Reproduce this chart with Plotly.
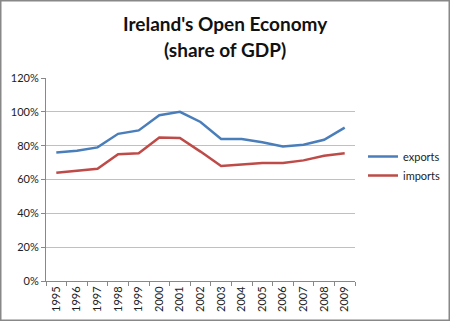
import plotly.graph_objects as go

years = [str(y) for y in range(1995, 2010)]
exports = [0.76, 0.77, 0.79, 0.87, 0.89, 0.98, 1.00, 0.94, 0.84, 0.84, 0.82, 0.795, 0.805, 0.835, 0.907]
imports = [0.64, 0.653, 0.663, 0.75, 0.755, 0.848, 0.845, 0.765, 0.68, 0.688, 0.697, 0.697, 0.713, 0.74, 0.755]

W, H = 450, 321
L, R, T, B = 46, 95, 78, 40
pw, ph = W - L - R, H - T - B

FONT = "Lato"
fig = go.Figure()
fig.add_trace(go.Scatter(x=years, y=exports, name="exports", mode="lines",
                         line=dict(color="#4a7ebb", width=2.5)))
fig.add_trace(go.Scatter(x=years, y=imports, name="imports", mode="lines",
                         line=dict(color="#be4b48", width=2.5)))

def px_x(p):
    return (p - L) / pw

def px_y(p):
    return (H - B - p) / ph

fig.update_layout(
    width=W, height=H,
    margin=dict(l=L, r=R, t=T, b=B, autoexpand=False),
    paper_bgcolor="white", plot_bgcolor="white",
    font=dict(family=FONT, size=11, color="#222"),
    showlegend=True,
    legend=dict(x=px_x(363), xanchor="left", y=px_y(166), yanchor="middle",
                font=dict(family=FONT, size=11, color="#222"),
                tracegroupgap=4, itemwidth=30, bgcolor="rgba(0,0,0,0)"),
    xaxis=dict(type="category", tickson="boundaries", ticks="outside", ticklen=4,
               tickcolor="#888", showline=True, linecolor="#888", showgrid=False,
               tickangle=-90, tickfont=dict(size=11), range=[-0.5, 14.5],
               automargin=False),
    yaxis=dict(range=[0, 1.2], dtick=0.2, tickformat=".0%", ticks="outside", ticklen=4,
               tickcolor="#888", showline=True, linecolor="#888", showgrid=True,
               gridcolor="#c0c0c0", gridwidth=1, zeroline=False,
               tickfont=dict(size=11), automargin=False),
    shapes=[dict(type="rect", xref="paper", yref="paper",
                 x0=px_x(0.75), x1=px_x(W - 0.75), y0=px_y(H - 0.75), y1=px_y(0.75),
                 line=dict(color="#888", width=1.5), layer="above")],
)
fig.add_annotation(text="<b>Ireland's Open Economy</b>", xref="paper", yref="paper",
                   x=px_x(225), y=px_y(23), xanchor="center", yanchor="middle",
                   showarrow=False, font=dict(family=FONT, size=19, color="#111"))
fig.add_annotation(text="<b>(share of GDP)</b>", xref="paper", yref="paper",
                   x=px_x(225), y=px_y(49), xanchor="center", yanchor="middle",
                   showarrow=False, font=dict(family=FONT, size=19, color="#111"))
fig.write_html("out.html")
